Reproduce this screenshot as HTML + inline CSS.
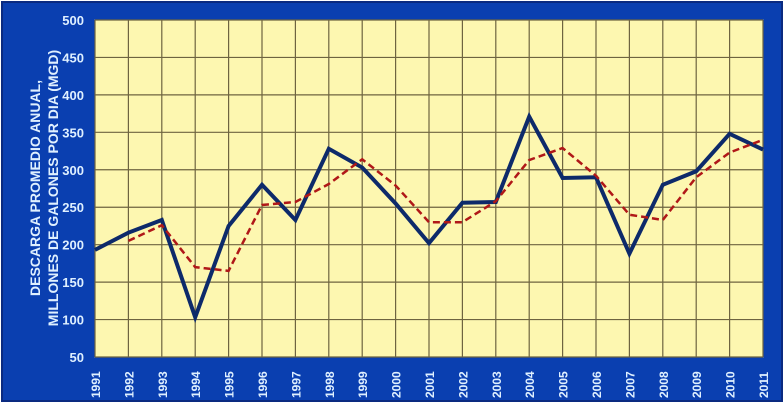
<!DOCTYPE html>
<html><head><meta charset="utf-8"><style>
html,body{margin:0;padding:0;background:#fff;}
svg{display:block;font-family:"Liberation Sans",sans-serif;}
</style></head><body>
<svg id="c" width="784" height="405">
<rect x="2" y="2" width="780" height="399" fill="#0a3fb0" stroke="#0a2a80" stroke-width="2"/>
<rect x="95" y="20" width="668" height="337" fill="#fdf7b0" stroke="#c8c8a0"/>
<g id="grid"></g><g id="ticks"></g><g id="series"></g>
<text transform="translate(40,188) rotate(-90)" text-anchor="middle" fill="#dff0ff" font-size="14" font-weight="bold"><tspan x="0" dy="0">DESCARGA PROMEDIO ANUAL,</tspan><tspan x="0" dy="18">MILLONES DE GALONES POR DIA (MGD)</tspan></text>
</svg>
<script>
const years=[1991,1992,1993,1994,1995,1996,1997,1998,1999,2000,2001,2002,2003,2004,2005,2006,2007,2008,2009,2010,2011];
const annual=[193,216,233,103,225,280,233,328,303,255,202,256,257,371,289,290,188,280,298,348,327];
const avgYears=[1992,1993,1994,1995,1996,1997,1998,1999,2000,2001,2002,2003,2004,2005,2006,2007,2008,2009,2010,2011];
const movingAvg=[205,226,170,165,253,257,281,314,279,230,230,258,313,329,292,240,233,290,323,340];
const yTicks=[50,100,150,200,250,300,350,400,450,500];
const NS='http://www.w3.org/2000/svg';
const X0=95,X1=763,Y0=357,Y1=20;
const x=v=>X0+(v-1991)/(2011-1991)*(X1-X0);
const y=v=>Y0-(v-50)/(500-50)*(Y0-Y1);
function mk(t,a,p){const e=document.createElementNS(NS,t);for(const k in a)e.setAttribute(k,a[k]);p.appendChild(e);return e;}
const g=document.getElementById('grid'),tk=document.getElementById('ticks'),s=document.getElementById('series');
yTicks.forEach(v=>{
 const l=mk('line',{x1:X0,x2:X1,y1:y(v),y2:y(v),stroke:'#6e6440','stroke-width':1.2},g);
 
 
 const t=mk('text',{x:84,y:y(v)+5,'text-anchor':'end',fill:'#dff0ff','font-size':13,'font-weight':'bold'},tk);
 t.textContent=v;
 
 
});
years.forEach(v=>{
 const l=mk('line',{x1:x(v),x2:x(v),y1:Y1,y2:Y0,stroke:'#6e6440','stroke-width':1.2},g);
 
 
 const t=mk('text',{transform:`translate(${x(v)+5},398) rotate(-90)`,fill:'#dff0ff','font-size':12,'font-weight':'bold'},tk);
 t.textContent=v;
 
 
});
const p1=mk('polyline',{points:years.map((v,i)=>x(v)+','+y(annual[i])).join(' '),fill:'none',stroke:'#0d2a6a','stroke-width':4,'stroke-linejoin':'miter'},s);


const p2=mk('polyline',{points:avgYears.map((v,i)=>x(v)+','+y(movingAvg[i])).join(' '),fill:'none',stroke:'#b01818','stroke-width':2.5,'stroke-dasharray':'7,4'},s);


</script>
</body></html>
